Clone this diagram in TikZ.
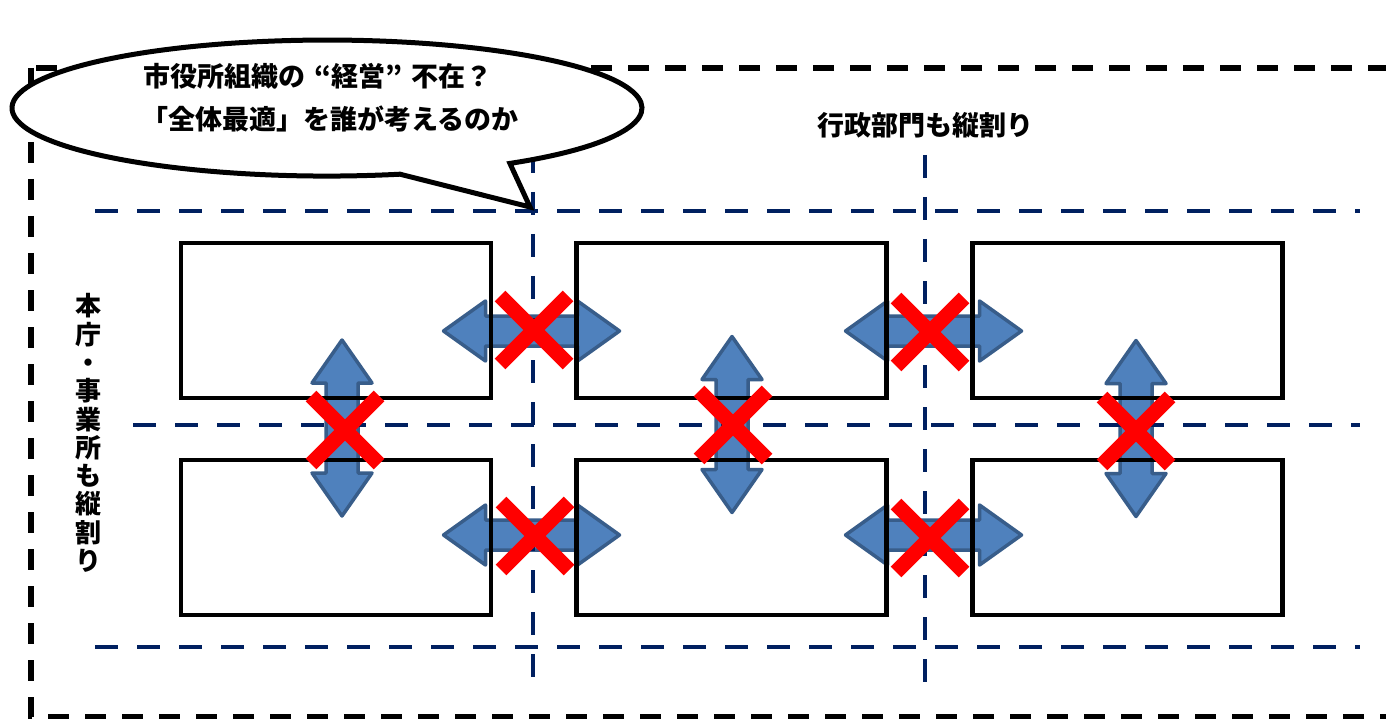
\documentclass[tikz,border=0pt]{standalone}
\usepackage{fontspec}
\newfontfamily\jp{Noto Sans CJK JP}
\definecolor{navy}{HTML}{002060}
\definecolor{arrowfill}{HTML}{4F81BD}
\definecolor{arrowline}{HTML}{385D8A}
\begin{document}
\begin{tikzpicture}[x=1pt,y=-1pt,
  outer/.style={draw=black,line width=5.5pt,dash pattern=on 21pt off 16pt},
  divider/.style={draw=navy,line width=4.5pt,dash pattern=on 23pt off 19pt},
  box/.style={draw=black,line width=4.5pt,minimum width=310pt,minimum height=155pt,inner sep=0pt},
  arrowstyle/.style={fill=arrowfill,draw=arrowline,line width=3.5pt,line join=round},
  xstyle/.style={draw=red,line width=15pt,line cap=butt},
  lbl/.style={font=\jp\bfseries\fontsize{27}{29}\selectfont,inner sep=0pt},
  harrow/.pic={\path[arrowstyle] (-88,0) -- (-46,-30) -- (-46,-15) -- (46,-15) -- (46,-30) -- (88,0) -- (46,30) -- (46,15) -- (-46,15) -- (-46,30) -- cycle;},
  varrow/.pic={\path[arrowstyle] (0,-88) -- (-30,-45) -- (-16,-45) -- (-16,45) -- (-30,45) -- (0,88) -- (30,45) -- (16,45) -- (16,-45) -- (30,-45) -- cycle;},
  redx/.pic={\path[xstyle] (-34,-34) -- (34,34) (-34,34) -- (34,-34);}
]
\useasboundingbox (0,0) rectangle (1386,719);
\clip (0,0) rectangle (1386,719);
\fill[white] (0,0) rectangle (1386,719);

% outer border
\path[outer] (31,68) rectangle (1430,717);

% arrows
\pic at (531.5,331) {harrow};
\pic at (933.5,331) {harrow};
\pic at (531.5,535) {harrow};
\pic at (933.5,535) {harrow};
\pic at (342,428) {varrow};
\pic at (732,424.5) {varrow};
\pic at (1136,428.5) {varrow};

% boxes
\node[box] (b11) at (336,320.5) {};
\node[box] (b12) at (731.5,320.5) {};
\node[box] (b13) at (1127.5,320.5) {};
\node[box] (b21) at (336,537.5) {};
\node[box] (b22) at (731.5,537.5) {};
\node[box] (b23) at (1127.5,537.5) {};

% dividers
\path[divider] (95,211) -- (1360,211);
\path[divider] (133,425) -- (1360,425);
\path[divider] (95,647) -- (1360,647);
\path[divider] (533,150) -- (533,690);
\path[divider] (925,155) -- (925,690);

% red crosses
\pic at (534,330) {redx};
\pic at (930,332) {redx};
\pic at (345,430) {redx};
\pic at (733,425) {redx};
\pic at (1136,431) {redx};
\pic at (535,536) {redx};
\pic at (930,538) {redx};

% callout
\path[draw=black,fill=white,line width=5pt,line join=miter]
  (400,174.2) arc[start angle=76.6,end angle=414.5,x radius=315,y radius=68]
  -- (530,207) -- cycle;
\node[lbl,anchor=west] (q1) at (143,76) {市役所組織の\hspace{9pt}“経営”\hspace{9pt}不在？};
\node[lbl,anchor=west] (q2) at (141,119) {「全体最適」を誰が考えるのか};

% labels
\node[lbl] (top) at (925,125) {行政部門も縦割り};
\node[lbl,align=center,font=\jp\bfseries\fontsize{26}{28.3}\selectfont] (side) at (88,433)
  {本\\庁\\・\\事\\業\\所\\も\\縦\\割\\り};
\end{tikzpicture}
\end{document}
